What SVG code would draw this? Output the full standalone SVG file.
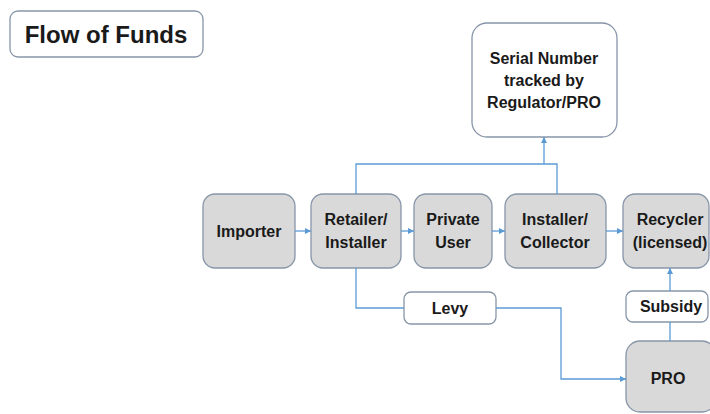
<svg xmlns="http://www.w3.org/2000/svg" width="710" height="414" viewBox="0 0 710 414">
<style>
.box{fill:#d9d9d9;stroke:#8796a8;stroke-width:1.3}
.wbox{fill:#ffffff;stroke:#8796a8;stroke-width:1.3}
text{font-family:"Liberation Sans",Arial,sans-serif;font-weight:bold;font-size:16px;fill:#1a1a1a;text-anchor:middle}
.conn{fill:none;stroke:#5b9bd5;stroke-width:1.3}
</style>
<defs>
<marker id="ah" viewBox="0 0 10 10" refX="10" refY="5" markerWidth="6" markerHeight="6" orient="auto" markerUnits="userSpaceOnUse">
<path d="M0,0 L10,5 L0,10 z" fill="#5b9bd5"/>
</marker>
</defs>
<rect width="710" height="414" fill="#ffffff"/>
<g id="title"><rect class="wbox" x="10" y="11" width="193" height="46" rx="8"/><text x="106" y="43" style="font-size:24px">Flow of Funds</text></g>
<g id="serial"><rect class="wbox" x="472" y="23" width="145" height="114" rx="15"/><text x="544" y="64">Serial Number</text><text x="544" y="86">tracked by</text><text x="544" y="108">Regulator/PRO</text></g>
<g id="importer"><rect class="box" x="203" y="194" width="92" height="74" rx="12"/><text x="249" y="237">Importer</text></g>
<g id="retailer"><rect class="box" x="311" y="194" width="90" height="74" rx="12"/><text x="356" y="225">Retailer/</text><text x="356" y="248">Installer</text></g>
<g id="private"><rect class="box" x="414" y="194" width="78" height="74" rx="12"/><text x="453" y="225">Private</text><text x="453" y="248">User</text></g>
<g id="collector"><rect class="box" x="505" y="194" width="101" height="74" rx="12"/><text x="555" y="225">Installer/</text><text x="555" y="248">Collector</text></g>
<g id="recycler"><rect class="box" x="623" y="194" width="86" height="74" rx="12"/><text x="670" y="225">Recycler</text><text x="670" y="248">(licensed)</text></g>
<g id="levy"><rect class="wbox" x="404" y="292" width="92" height="32" rx="7"/><text x="450" y="314">Levy</text></g>
<g id="subsidy"><rect class="wbox" x="626" y="291" width="82" height="31" rx="7"/><text x="671" y="312">Subsidy</text></g>
<g id="pro"><rect class="box" x="626" y="341" width="90" height="71" rx="14"/><text x="668" y="384">PRO</text></g>
<g id="connectors">
<path class="conn" d="M295,231 H311" marker-end="url(#ah)"/>
<path class="conn" d="M401,231 H414" marker-end="url(#ah)"/>
<path class="conn" d="M492,231 H505" marker-end="url(#ah)"/>
<path class="conn" d="M606,231 H623" marker-end="url(#ah)"/>
<path class="conn" d="M356,194 V164 H557 V194"/>
<path class="conn" d="M544,164 V137" marker-end="url(#ah)"/>
<path class="conn" d="M356,268 V308 H404"/>
<path class="conn" d="M496,308 H561 V379 H626" marker-end="url(#ah)"/>
<path class="conn" d="M670,341 V322"/>
<path class="conn" d="M670,291 V268" marker-end="url(#ah)"/>
</g>
</svg>
